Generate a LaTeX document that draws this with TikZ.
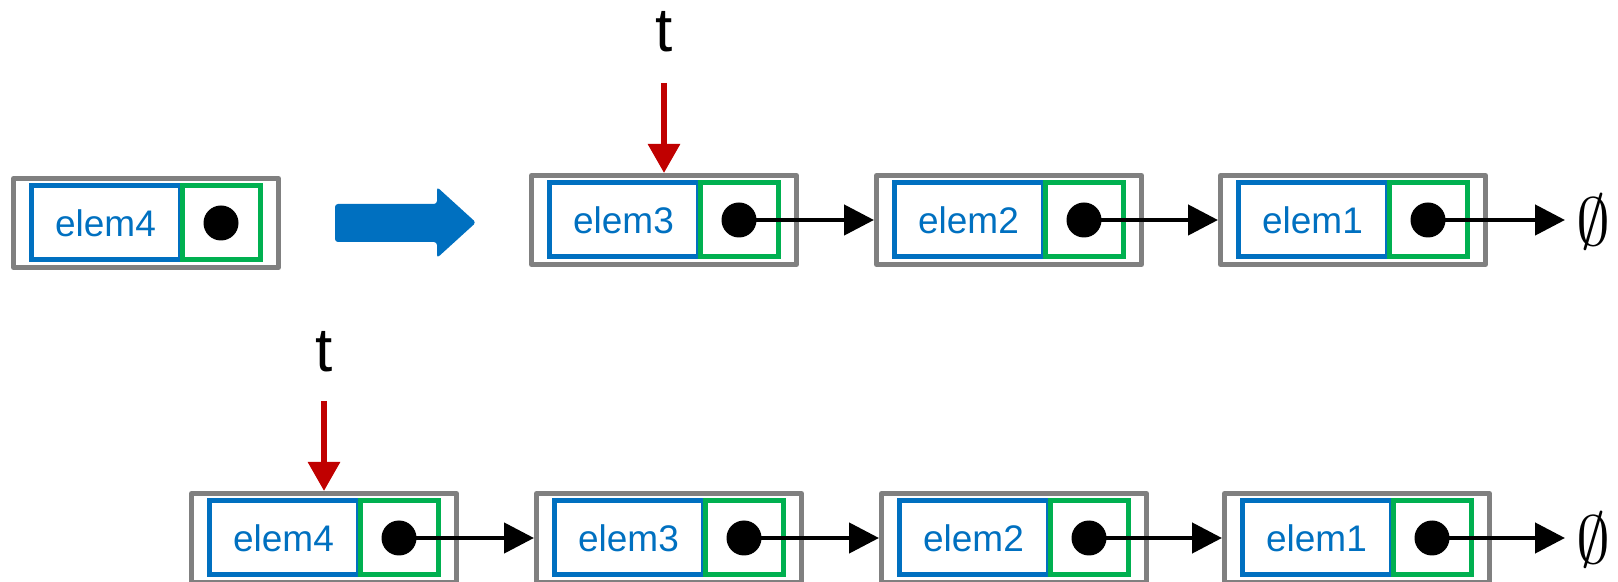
\documentclass[tikz,border=0pt]{standalone}
\usepackage{fontspec}
\setmainfont{Liberation Sans}
\usetikzlibrary{arrows.meta}

\definecolor{elemblue}{HTML}{0070C0}
\definecolor{nextgreen}{HTML}{00B050}
\definecolor{framegray}{HTML}{808080}
\definecolor{ptrred}{HTML}{C00000}

\tikzset{
  graybox/.style={draw=framegray, line width=2.5pt, line join=round,
    minimum width=132.5pt, minimum height=44.5pt, inner sep=0pt},
  bluebox/.style={draw=elemblue, line width=2.5pt, text=elemblue,
    minimum width=74.5pt, minimum height=37pt, inner sep=0pt,
    font=\fontsize{18.5}{21}\selectfont},
  greenbox/.style={draw=nextgreen, line width=2.5pt,
    minimum width=39pt, minimum height=37pt, inner sep=0pt},
  dotnode/.style={circle, fill=black, minimum size=17.5pt, inner sep=0pt},
  link/.style={line width=2.3pt, -{Triangle[length=15pt,width=15pt]}},
  ptr/.style={ptrred, line width=3pt, -{Triangle[length=14.5pt,width=15.5pt]}},
  ptrlabel/.style={font=\fontsize{31}{36}\selectfont, inner sep=0pt, anchor=base},
  nullmark/.style={scale=3.4, inner sep=0pt},
}

% one list cell: frame, element field, next field and its pointer dot
% #1 name, #2 left edge, #3 top edge, #4 element text
\newcommand\listcell[4]{%
  \node[graybox]  (#1)  at (#2+135,#3+47) {};
  \node[bluebox]  (#1b) at (#2+94.5,#3+47) {#4};
  \node[greenbox] (#1n) at (#2+210,#3+47) {};
  \node[dotnode]  (#1d) at (#2+210,#3+47) {};
}

\begin{document}
\begin{tikzpicture}[x=0.5pt,y=-0.5pt]
  \useasboundingbox (0,0) rectangle (1618,582);
  \clip (0,0) rectangle (1618,582);

  % new element on its own
  \listcell{a}{11}{176}{elem4}

  % transition arrow
  \fill[elemblue, rounded corners=1.5pt]
    (335,204) -- (437,204) -- (437,187) -- (476,222.5) -- (437,258)
    -- (437,242) -- (335,242) -- cycle;

  % list before insertion
  \listcell{p1}{529}{173}{elem3}
  \listcell{p2}{874}{173}{elem2}
  \listcell{p3}{1218}{173}{elem1}
  \draw[link] (p1d.center) -- (p2.west);
  \draw[link] (p2d.center) -- (p3.west);
  \coordinate (pend) at (1565,220);
  \draw[link] (p3d.center) -- (pend);
  \node[nullmark] (pnull) at (1593,222) {$\emptyset$};

  \node[ptrlabel] (pt) at (664,52) {t};
  \draw[ptr, shorten <=15pt] (pt.south) -- (p1.north);

  % list after insertion
  \listcell{q1}{189}{491}{elem4}
  \listcell{q2}{534}{491}{elem3}
  \listcell{q3}{879}{491}{elem2}
  \listcell{q4}{1222}{491}{elem1}
  \draw[link] (q1d.center) -- (q2.west);
  \draw[link] (q2d.center) -- (q3.west);
  \draw[link] (q3d.center) -- (q4.west);
  \coordinate (qend) at (1565,538);
  \draw[link] (q4d.center) -- (qend);
  \node[nullmark] (qnull) at (1593,540) {$\emptyset$};

  \node[ptrlabel] (qt) at (324,372) {t};
  \draw[ptr, shorten <=14pt] (qt.south) -- (q1.north);
\end{tikzpicture}
\end{document}
